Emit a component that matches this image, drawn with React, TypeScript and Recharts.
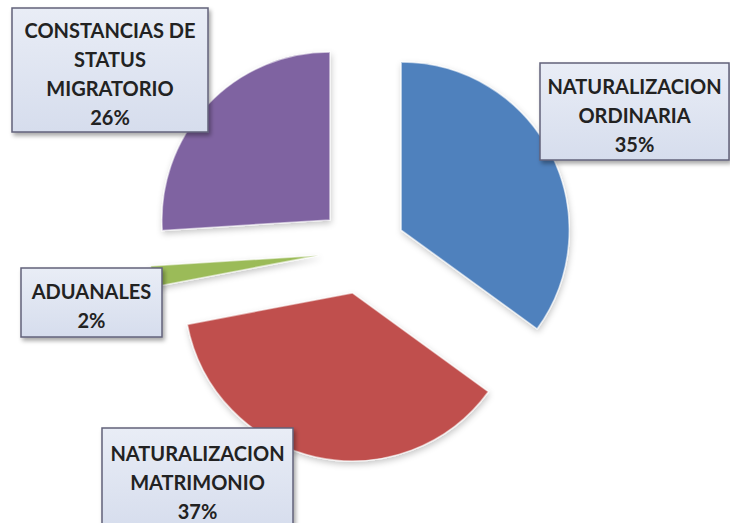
import React from 'react';
import { PieChart, Pie, Cell } from 'recharts';

const CATEGORIES = ['NATURALIZACION ORDINARIA', 'NATURALIZACION MATRIMONIO', 'ADUANALES', 'CONSTANCIAS DE STATUS MIGRATORIO'];
const LABEL_LINES = [
  ['NATURALIZACION', 'ORDINARIA'],
  ['NATURALIZACION', 'MATRIMONIO'],
  ['ADUANALES'],
  ['CONSTANCIAS DE', 'STATUS', 'MIGRATORIO'],
];
const VALUES = [35, 37, 2, 26];
const COLORS = ['#4f81bd', '#c0504d', '#9bbb59', '#7f63a1'];

// layout (not data)
const W = 730;
const H = 523;
const CX = 362;
const CY = 250;
const R = 168;
const EXPLODE = 44;
const LINE_H = 29;
const FONT = 20;
// label boxes relative to the pie centre
const LABEL_BOXES = [
  { x: 178, y: -187, w: 189, h: 97 },
  { x: -260, y: 178, w: 191, h: 102 },
  { x: -341, y: 18, w: 141, h: 69 },
  { x: -350, y: -242, w: 196, h: 124 },
];

const data = CATEGORIES.map((name, i) => ({ name, value: VALUES[i] }));
const total = VALUES.reduce((a, b) => a + b, 0);
const midAngles = VALUES.map((v, i) => {
  const before = VALUES.slice(0, i).reduce((a, b) => a + b, 0);
  return 90 - (360 * (before + v / 2)) / total;
});

const makeLabel = (slice: number) => (props: any) => {
  if (props.index !== slice) return null;
  const b = LABEL_BOXES[slice];
  const x = CX + b.x;
  const y = CY + b.y;
  const lines = [...LABEL_LINES[slice], `${Math.round((VALUES[slice] / total) * 100)}%`];
  const cy = y + b.h / 2 + 3;
  const first = cy - ((lines.length - 1) * LINE_H) / 2;
  return (
    <g key={`lbl-${slice}`}>
      <rect x={x} y={y} width={b.w} height={b.h} fill="url(#boxGrad)" stroke="#62627a" strokeWidth={1.5} filter="url(#boxShadow)" />
      {lines.map((t, k) => (
        <text
          key={k}
          x={x + b.w / 2}
          y={first + k * LINE_H}
          textAnchor="middle"
          dominantBaseline="central"
          fontFamily="Lato, 'Open Sans', sans-serif"
          fontWeight={700}
          fontSize={FONT}
          fill="#222222"
        >
          {t}
        </text>
      ))}
    </g>
  );
};

export default function App() {
  return (
    <div style={{ position: 'absolute', left: 0, top: 0, width: W, height: H, background: '#fff' }}>
      <PieChart width={W} height={H} margin={{ top: 0, right: 0, bottom: 0, left: 0 }}>
        <defs>
          <linearGradient id="boxGrad" x1="0" y1="0" x2="0" y2="1">
            <stop offset="0%" stopColor="#e9edf6" />
            <stop offset="100%" stopColor="#d6dded" />
          </linearGradient>
          <filter id="boxShadow" x="-10%" y="-10%" width="130%" height="140%">
            <feDropShadow dx="2" dy="3" stdDeviation="2" floodColor="#000" floodOpacity="0.35" />
          </filter>
          <filter id="sliceShadow" x="-20%" y="-20%" width="140%" height="140%">
            <feDropShadow dx="1" dy="3" stdDeviation="3" floodColor="#000" floodOpacity="0.22" />
          </filter>
        </defs>
        {VALUES.map((_, s) => {
          const rad = (midAngles[s] * Math.PI) / 180;
          const pcx = CX + EXPLODE * Math.cos(rad);
          const pcy = CY - EXPLODE * Math.sin(rad);
          return (
            <Pie
              key={s}
              data={data}
              dataKey="value"
              nameKey="name"
              cx={pcx}
              cy={pcy}
              innerRadius={0}
              outerRadius={R}
              startAngle={90}
              endAngle={-270}
              isAnimationActive={false}
              labelLine={false}
              label={makeLabel(s)}
              stroke="none"
            >
              {data.map((d, i) => (
                <Cell
                  key={d.name}
                  fill={i === s ? COLORS[i] : 'none'}
                  stroke={i === s ? 'rgba(255,255,255,0.55)' : 'none'}
                  strokeWidth={i === s ? 1.5 : 0}
                  filter={i === s ? 'url(#sliceShadow)' : undefined}
                />
              ))}
            </Pie>
          );
        })}
      </PieChart>
    </div>
  );
}
